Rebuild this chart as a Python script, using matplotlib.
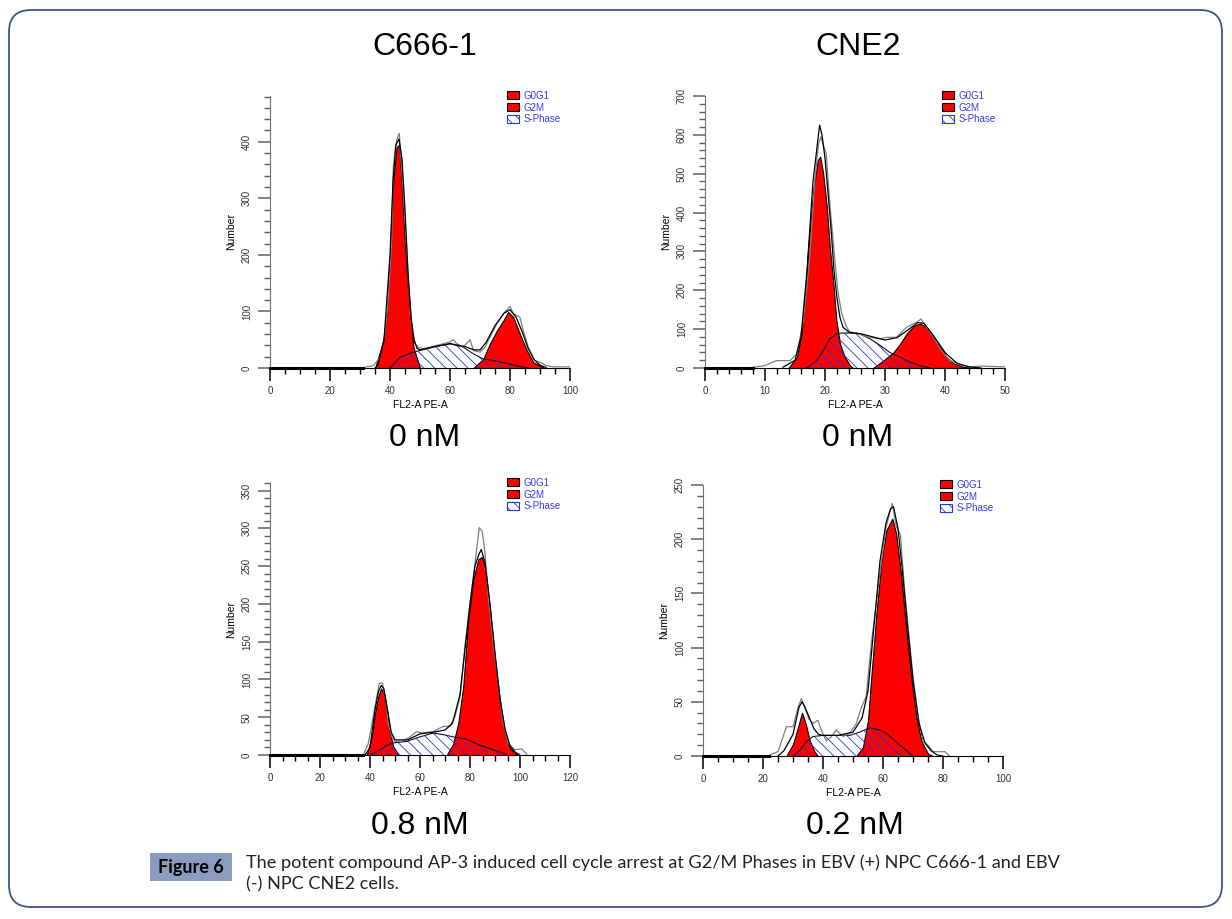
import matplotlib
matplotlib.use('Agg')
import matplotlib.pyplot as plt
from matplotlib.patches import Patch, FancyBboxPatch, Rectangle
from matplotlib.ticker import MultipleLocator

plt.rcParams['font.family'] = ['Liberation Sans', 'DejaVu Sans']
plt.rcParams['hatch.linewidth'] = 0.6

## C666-1, 0 nM
tl_raw_x = [31.1, 34.4, 36.7, 38.3, 39.4, 40.6, 41.1, 41.9, 42.6, 43.1, 43.4, 43.9, 45, 46.1, 47.2, 48.3, 49.4, 51.1,
            53.3, 55.6, 57.8, 60, 61.1, 62.2, 64.4, 66.7, 67.8, 70, 71.7, 73.3, 75.6, 77.8, 80, 81.1, 82.2, 83.3, 84.4,
            86.1, 88.3, 90, 92.2, 94.4, 100]
tl_raw_y = [1, 4, 19, 60, 119, 232, 356, 394, 409, 415, 391, 356, 261, 155, 78, 43, 37, 34, 37, 40, 43, 46, 50, 43,
            37, 50, 31, 28, 37, 54, 78, 96, 109, 96, 93, 90, 66, 37, 13, 10, 4, 2, 2]
tl_fit_x = [35, 36, 38, 40, 41, 42, 43, 44, 45, 46, 47, 48, 49, 50, 55, 60, 65, 68, 70, 72, 75, 78, 80, 82, 84, 86, 88,
            90, 92]
tl_fit_y = [0, 5, 50, 200, 330, 395, 405, 370, 280, 170, 90, 50, 35, 32, 38, 43, 38, 32, 32, 45, 75, 97, 103, 90, 65,
            35, 15, 5, 1]
tl_g1_x = [35, 37.8, 38.9, 40, 41.1, 42.2, 43, 43.3, 44.4, 45.6, 46.9, 47.8, 50]
tl_g1_y = [0, 48, 96, 202, 332, 390, 395, 385, 273, 167, 90, 37, 0]
tl_g2_x = [67.8, 71.1, 73.3, 75.6, 77.8, 79.4, 81.1, 83.3, 85.6, 87.8, 91.1]
tl_g2_y = [0, 16, 43, 66, 84, 99, 90, 60, 31, 10, 1]
tl_s_x = [40, 43.3, 47.8, 54.4, 60, 64.4, 67.8, 71.1, 75.6, 80, 83, 86]
tl_s_y = [0, 19, 28, 37, 43, 37, 25, 16, 12, 7, 3, 0]

## CNE2, 0 nM
tr_raw_x = [8, 10, 11.9, 14.2, 15.3, 16.4, 17.5, 18.3, 18.9, 19.3, 19.7, 20.2, 20.8, 21.7, 22.2, 22.8, 23.6, 24.2,
            25.3, 26.4, 27.5, 29.2, 30.3, 31.9, 33.6, 35.3, 36, 36.9, 38.1, 39.4, 40.8, 42.5, 44.2, 45.8, 50]
tr_raw_y = [2, 6, 19, 19, 36, 122, 294, 483, 574, 595, 574, 552, 423, 268, 191, 139, 105, 92, 90, 83, 79, 75, 79, 79,
            105, 118, 126, 105, 79, 45, 19, 9, 3, 5, 3]
tr_fit_x = [13, 15, 16, 17, 18, 19.1, 19.5, 20, 21, 21.5, 22, 22.5, 23, 24, 26, 28, 30, 32, 34, 35.5, 36.5, 38, 40,
            42, 44, 46]
tr_fit_y = [2, 20, 80, 250, 480, 625, 600, 540, 360, 250, 180, 130, 105, 92, 88, 80, 72, 78, 100, 117, 115, 85, 40,
            12, 3, 0]
tr_g1_x = [13.9, 15.3, 16.1, 16.7, 17.2, 18.1, 18.8, 19.2, 19.7, 20.3, 20.8, 21.4, 21.9, 22.5, 23.3, 24.2, 24.7]
tr_g1_y = [0, 28, 88, 191, 311, 466, 535, 544, 500, 415, 311, 217, 122, 62, 28, 6, 0]
tr_g2_x = [28, 29.7, 31.4, 32.5, 33.6, 34.7, 35.8, 36.9, 38.1, 39.2, 40.3, 41.4, 43.1, 44.7]
tr_g2_y = [0, 19, 40, 62, 88, 107, 115, 105, 79, 53, 28, 12, 3, 0]
tr_s_x = [17, 18.6, 19.7, 20.8, 21.9, 22.8, 24.2, 25.8, 27.5, 29.2, 30.8, 32.5, 34.2, 35.8, 37.5]
tr_s_y = [0, 19, 45, 75, 88, 90, 90, 88, 75, 58, 40, 28, 15, 6, 0]

## C666-1, 0.8 nM
bl_raw_x = [37.3, 39.3, 41.3, 42.7, 43.7, 45, 46.3, 47.3, 48.7, 50, 52.7, 56, 58.7, 60.7, 65.3, 69.3, 72, 74, 76, 78,
            80, 82, 83.7, 84.9, 86, 87.3, 89.3, 91.3, 93.3, 95.3, 98, 100.7, 102.7]
bl_raw_y = [0, 15, 51, 77, 95, 95, 73, 42, 24, 18, 18, 24, 31, 29, 31, 38, 38, 51, 77, 144, 201, 254, 301, 296, 268,
            210, 148, 95, 42, 15, 7, 8, 1]
bl_fit_x = [38, 40, 42, 43.5, 44.5, 45.5, 47, 48.5, 50, 55, 60, 65, 70, 73, 76, 78, 80, 82, 83.5, 84.5, 86, 88, 90,
            92, 94, 96, 98, 100]
bl_fit_y = [0, 10, 60, 85, 92, 88, 60, 30, 20, 20, 28, 30, 33, 42, 80, 140, 200, 250, 265, 272, 255, 200, 135, 75, 35,
            12, 4, 0]
bl_g1_x = [38.7, 40.7, 42, 43.3, 44.4, 45.6, 46.7, 48, 49.3, 51.3]
bl_g1_y = [0, 24, 55, 77, 88, 82, 60, 29, 11, 1]
bl_g2_x = [70.7, 73.3, 75.3, 77.3, 79.3, 81.3, 83.3, 84.7, 86, 88, 90, 92, 94, 96, 98.7]
bl_g2_y = [0, 15, 42, 91, 179, 232, 259, 262, 250, 192, 126, 69, 29, 9, 1]
bl_s_x = [40, 44, 46.7, 49.3, 54.7, 60, 65.3, 69.3, 73.3, 78.7, 84, 89.3, 94.7]
bl_s_y = [0, 7, 13, 16, 18, 24, 29, 27, 24, 21, 13, 7, 1]

## CNE2, 0.2 nM
br_raw_x = [22.2, 25, 27.8, 30, 31.7, 32.8, 33.9, 35.3, 36.7, 38.3, 39.4, 41.1, 42.8, 44.4, 46.7, 48.9, 51.1, 52.8,
            54.4, 56.1, 57.8, 59.4, 61.1, 62.2, 63.1, 64.4, 65.8, 67.2, 68.7, 70, 71.7, 73.3, 75, 76.7, 78.9, 80.6, 82.2]
br_raw_y = [1, 4, 27, 27, 45, 53, 45, 34, 30, 33, 24, 14, 18, 24, 18, 21, 30, 45, 55, 104, 141, 178, 212, 224, 233,
            212, 204, 153, 110, 73, 36, 14, 10, 4, 4, 4, 0]
br_fit_x = [25, 27, 30, 32, 33, 34, 35.5, 37, 38.5, 40, 45, 50, 53, 55, 57, 59, 61, 62.5, 63.5, 65, 66.5, 68, 70, 72,
            74, 76, 78, 80]
br_fit_y = [0, 5, 20, 45, 50, 45, 35, 25, 20, 19, 19, 22, 35, 60, 120, 180, 215, 228, 230, 210, 170, 125, 70, 30, 12,
            5, 1, 0]
br_g1_x = [27.8, 30, 31.7, 33, 34.2, 35.6, 37.2, 38.3]
br_g1_y = [0, 11, 27, 40, 30, 14, 4, 0]
br_g2_x = [51.1, 53.3, 55, 56.1, 57.8, 59.4, 61.1, 63.1, 64.4, 66.1, 67.8, 69.4, 71.1, 72.8, 75, 76.7]
br_g2_y = [0, 8, 33, 73, 131, 178, 208, 219, 205, 165, 116, 73, 36, 14, 2, 0]
br_s_x = [30, 32.2, 34.4, 36.7, 40, 44.4, 48.9, 52.2, 55.6, 58.9, 61.1, 64.4, 67.8, 70]
br_s_y = [0, 5, 13, 18, 19, 19, 19, 22, 26, 24, 21, 13, 5, 0]

cells = ['C666-1', 'CNE2']
doses = ['0 nM', '0 nM', '0.8 nM', '0.2 nM']
legend_labels = ['G0G1', 'G2M', 'S-Phase']
caption = ('The potent compound AP-3 induced cell cycle arrest at G2/M Phases in EBV (+) NPC C666-1 and EBV\n'
           '(-) NPC CNE2 cells.')

W, H = 1232, 919
fig = plt.figure(figsize=(W / 100, H / 100), dpi=100)

def px_ax(x0, y0, x1, y1):
    return fig.add_axes([x0 / W, 1 - y1 / H, (x1 - x0) / W, (y1 - y0) / H])

panels = [
    (px_ax(270, 96, 570, 368), tl_raw_x, tl_raw_y, tl_fit_x, tl_fit_y, tl_g1_x, tl_g1_y, tl_g2_x, tl_g2_y, tl_s_x, tl_s_y,
     (0, 100, 20, 5), (0, 481, 100, 20), 31),
    (px_ax(705, 96, 1005, 368), tr_raw_x, tr_raw_y, tr_fit_x, tr_fit_y, tr_g1_x, tr_g1_y, tr_g2_x, tr_g2_y, tr_s_x, tr_s_y,
     (0, 50, 10, 2), (0, 700, 100, 20), 8),
    (px_ax(270, 483, 570, 755), bl_raw_x, bl_raw_y, bl_fit_x, bl_fit_y, bl_g1_x, bl_g1_y, bl_g2_x, bl_g2_y, bl_s_x, bl_s_y,
     (0, 120, 20, 5), (0, 360, 50, 10), 37),
    (px_ax(703, 485, 1003, 756), br_raw_x, br_raw_y, br_fit_x, br_fit_y, br_g1_x, br_g1_y, br_g2_x, br_g2_y, br_s_x, br_s_y,
     (0, 100, 20, 5), (0, 250, 50, 10), 22),
]

for (ax, rx, ry, fx, fy, g1x, g1y, g2x, g2y, sx, sy, xl, yl, base_end) in panels:
    ax.fill_between(g1x, g1y, 0, facecolor='#ff0000', edgecolor='black', linewidth=0.8, zorder=2)
    ax.fill_between(g2x, g2y, 0, facecolor='#ff0000', edgecolor='black', linewidth=0.8, zorder=2)
    ax.fill_between(sx, sy, 0, facecolor='none', edgecolor='#2233dd', hatch='\\\\\\', linewidth=0, zorder=3)
    ax.plot(sx, sy, color='#101030', lw=0.8, zorder=4)
    ax.plot(rx, ry, color='#808080', lw=0.9, zorder=5)
    ax.plot(fx, fy, color='black', lw=0.9, zorder=6)
    ax.plot([0, base_end], [0, 0], color='black', lw=2.2, zorder=6, clip_on=False)

    ax.set_xlim(xl[0], xl[1])
    ax.set_ylim(yl[0], yl[1])
    ax.xaxis.set_major_locator(MultipleLocator(xl[2]))
    ax.xaxis.set_minor_locator(MultipleLocator(xl[3]))
    ax.yaxis.set_major_locator(MultipleLocator(yl[2]))
    ax.yaxis.set_minor_locator(MultipleLocator(yl[3]))
    for s in ['top', 'right']:
        ax.spines[s].set_visible(False)
    ax.spines['left'].set_color('#707070')
    ax.spines['bottom'].set_color('black')
    ax.tick_params(which='major', length=9, width=1.1, color='black', labelsize=7, labelcolor='#333333', pad=4)
    ax.tick_params(which='minor', length=4.5, width=1.0, color='black')
    ax.tick_params(axis='y', which='both', color='#606060')
    for lab in ax.get_yticklabels():
        lab.set_rotation(90)
        lab.set_va('center')
    ax.set_ylabel('Number', fontsize=7.5, labelpad=4)
    ax.set_xlabel('FL2-A PE-A', fontsize=7.5, labelpad=3)

    handles = [Patch(facecolor='#ff0000', edgecolor='black', linewidth=0.8),
               Patch(facecolor='#ff0000', edgecolor='black', linewidth=0.8),
               Patch(facecolor='white', edgecolor='#2233dd', hatch='\\\\\\', linewidth=0.8)]
    leg = ax.legend(handles, legend_labels, loc='upper left', bbox_to_anchor=(0.79, 1.02), frameon=False,
                    fontsize=7, handlelength=1.2, handleheight=0.9, labelspacing=0.2, borderpad=0,
                    borderaxespad=0, handletextpad=0.5)
    for t in leg.get_texts():
        t.set_color('#3a3aee')

## titles and doses
fig.text(425 / W, 1 - 47 / H, cells[0], fontsize=23, ha='center', va='center')
fig.text(858 / W, 1 - 47 / H, cells[1], fontsize=23, ha='center', va='center')
fig.text(425 / W, 1 - 438 / H, doses[0], fontsize=23, ha='center', va='center')
fig.text(858 / W, 1 - 438 / H, doses[1], fontsize=23, ha='center', va='center')
fig.text(420 / W, 1 - 826 / H, doses[2], fontsize=23, ha='center', va='center')
fig.text(855 / W, 1 - 826 / H, doses[3], fontsize=23, ha='center', va='center')

## caption
fig.patches.append(Rectangle((150 / W, 1 - 881 / H), 82 / W, 28 / H, transform=fig.transFigure,
                             facecolor='#8b9cc0', edgecolor='none'))
fig.text(191 / W, 1 - 867 / H, 'Figure 6', fontsize=13, fontweight='bold', ha='center', va='center',
         family=['Lato', 'DejaVu Sans'])
fig.text(246 / W, 1 - 854 / H, caption, fontsize=13.1, ha='left', va='top', linespacing=1.42,
         family=['Lato', 'DejaVu Sans'], color='#222222')

## rounded frame
fig.patches.append(FancyBboxPatch((0.09, 0.12), 12.13, 8.97, boxstyle='round,pad=0,rounding_size=0.22',
                                  transform=fig.dpi_scale_trans, facecolor='none', edgecolor='#3d5785', lw=1.3))

fig.savefig('out.png', dpi=100)
